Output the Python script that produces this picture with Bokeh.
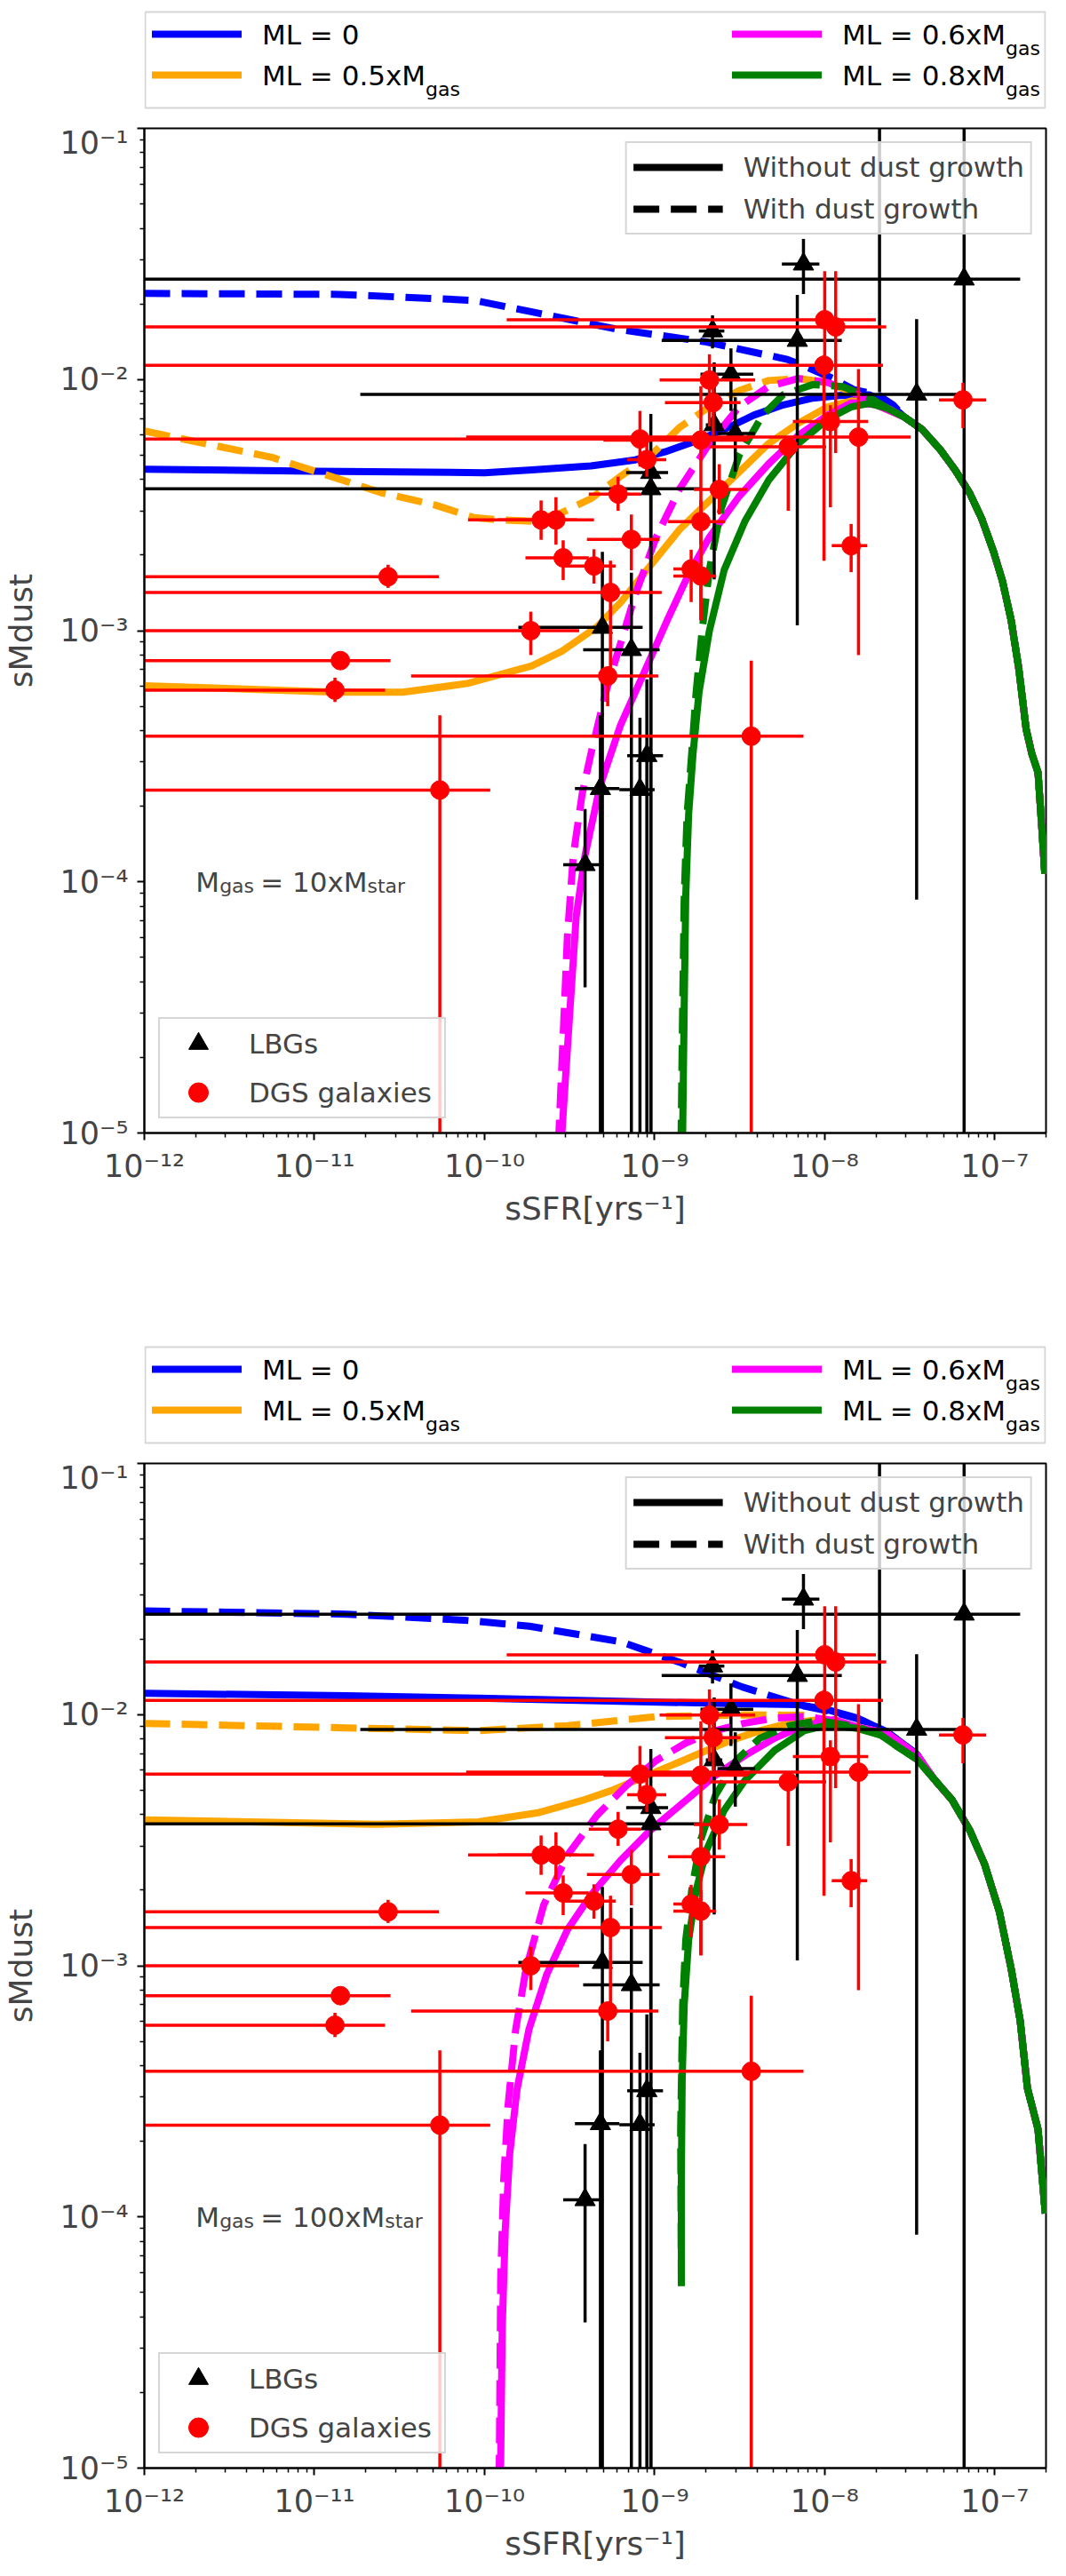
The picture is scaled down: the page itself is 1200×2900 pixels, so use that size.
import numpy as np
from bokeh.plotting import figure
from bokeh.models import (ColumnDataSource, Legend, LegendItem, Label, Range1d,
                          FixedTicker, CustomJSTickFormatter)
from bokeh.layouts import column
from bokeh.embed import file_html
from bokeh.resources import INLINE
from bokeh.core.properties import value

FONT = "DejaVu Sans"

# ---------------- observations (same in both panels) ----------------
# LBGs, black triangles (last one sits above the plotted range, only its bar shows)
lbg_ssfr = [7.5e-9, 6.6e-8, 2.19e-9, 6.9e-9, 2.81e-9, 2.24e-9, 2.98e-9, 3.47e-8,
            9.5e-10, 9.5e-10, 4.93e-10, 7.3e-10, 9.0e-10, 4.8e-10, 8.2e-10, 3.9e-10, 2.1e-8]
lbg_smd = [0.0288, 0.0251, 0.0156, 0.0143, 0.0105, 0.0066, 0.0061, 0.00873,
           0.00426, 0.00367, 0.00103, 8.4e-4, 3.18e-4, 2.35e-4, 2.33e-4, 1.17e-4, 0.2]
lbg_ssfr_lo = [5.6e-9, 1e-13, 1.82e-9, 1.1e-9, 1.86e-9, 2.0e-9, 2.34e-9, 1.86e-11,
               6.8e-10, 1e-13, 1.58e-10, 3.8e-10, 6.9e-10, 3.4e-10, 6.2e-10, 2.9e-10, 2.1e-8]
lbg_ssfr_hi = [9.3e-9, 1.41e-7, 2.57e-9, 1.26e-8, 3.8e-9, 2.5e-9, 3.9e-9, 6.6e-8,
               1.2e-9, 1.9e-9, 8.5e-10, 1.07e-9, 1.12e-9, 6.2e-10, 1.0e-9, 5.0e-10, 2.1e-8]
lbg_smd_lo = [0.0219, 1e-7, 0.0133, 0.00105, 0.0075, 0.0016, 0.0043, 8.5e-5,
              1e-7, 1e-7, 1e-7, 1e-7, 1e-7, 1e-7, 1e-7, 3.8e-5, 0.0089]
lbg_smd_hi = [0.0363, 0.5, 0.018, 0.0217, 0.0133, 0.0117, 0.0085, 0.0174,
              0.0073, 0.0045, 0.00206, 0.0017, 6.4e-4, 4.6e-4, 4.5e-4, 1.95e-4, 0.5]

# DGS galaxies, red circles
dgs_ssfr = [1.0e-8, 1.16e-8, 9.9e-9, 2.1e-9, 2.21e-9, 8.2e-10, 1.58e-8, 1.87e-9,
            9.0e-10, 6.1e-9, 1.08e-8, 6.1e-10, 2.4e-9, 2.15e-10, 2.63e-10, 1.87e-9,
            7.3e-10, 2.9e-10, 4.4e-10, 1.64e-9, 1.87e-9, 5.5e-10, 1.43e-8, 1.87e-10,
            6.5e-8, 2.71e-11, 1.42e-11, 1.32e-11, 5.3e-10, 5.46e-11, 3.7e-9]
dgs_smd = [0.0173, 0.0162, 0.0114, 0.00995, 0.0081, 0.0058, 0.0059, 0.00574,
           0.0048, 0.0054, 0.0068, 0.0035, 0.00365, 0.00276, 0.00276, 0.00272,
           0.00231, 0.00195, 0.00181, 0.00176, 0.00165, 0.00142, 0.00218, 0.0010,
           0.0083, 0.00164, 7.6e-4, 5.8e-4, 6.6e-4, 2.32e-4, 3.8e-4]
dgs_ssfr_lo = [1.35e-10, 1e-13, 1e-13, 1.07e-9, 1.15e-9, 1e-13, 7.8e-11, 5.0e-10,
               6.9e-10, 2.1e-9, 6.5e-9, 4.1e-10, 1.7e-9, 8.0e-11, 1.2e-10, 1.2e-9,
               4.0e-10, 1.74e-10, 2.95e-10, 1.29e-9, 1.29e-9, 1e-13, 1.1e-8, 1e-13,
               4.7e-8, 1e-13, 1e-13, 1e-13, 3.7e-11, 1e-13, 1e-13]
dgs_ssfr_hi = [2.0e-8, 2.3e-8, 2.2e-8, 3.9e-9, 3.2e-9, 3.6e-9, 3.2e-8, 3.5e-9,
               1.17e-9, 1.02e-8, 1.8e-8, 8.3e-10, 3.5e-9, 3.5e-10, 4.4e-10, 2.6e-9,
               1.07e-9, 4.1e-10, 5.9e-10, 2.0e-9, 2.3e-9, 1.1e-9, 1.78e-8, 3.6e-10,
               8.9e-8, 5.4e-11, 2.8e-11, 2.6e-11, 1.05e-9, 1.08e-10, 7.5e-9]
dgs_smd_lo = [0.0116, 0.0051, 0.0019, 0.0065, 0.0060, 0.0045, 0.0008, 0.0011,
              0.0041, 0.0030, 0.0031, 0.0030, 0.0029, 0.0023, 0.0022, 0.0022,
              0.00174, 0.00159, 0.00154, 0.0013, 0.0011, 0.00071, 0.00171, 0.00080,
              0.0064, 0.00148, 0.00073, 0.00052, 0.00050, 1e-7, 1e-7]
dgs_smd_hi = [0.027, 0.027, 0.0125, 0.0126, 0.0095, 0.0075, 0.011, 0.0094,
              0.0056, 0.0059, 0.0079, 0.0041, 0.0046, 0.0033, 0.0034, 0.0033,
              0.0029, 0.00229, 0.00211, 0.0021, 0.0020, 0.0019, 0.00266, 0.00119,
              0.0097, 0.00183, 0.00079, 0.00065, 0.00072, 0.00046, 0.00076]

# ---------------- model curves, log10(sSFR) / log10(sMdust) ----------------
# upper panel, Mgas = 10 x Mstar ; all curves end on a common falling branch
top_tail_lx = [-7.53, -7.425, -7.32, -7.234, -7.147, -7.077, -7.008, -6.956, -6.904,
               -6.860, -6.816, -6.782, -6.746, -6.724, -6.706]
top_tail_ly = [-2.15, -2.20, -2.28, -2.359, -2.453, -2.554, -2.684, -2.80, -2.958,
               -3.146, -3.391, -3.491, -3.564, -3.78, -3.967]

top_blue_solid_lx = [-12.0, -11.0, -10.0, -9.722, -9.374, -9.113, -8.939, -8.765, -8.591,
                     -8.417, -8.243, -8.069, -7.912, -7.739, -7.634]
top_blue_solid_ly = [-2.357, -2.365, -2.371, -2.36, -2.344, -2.32, -2.288, -2.247, -2.199,
                     -2.142, -2.101, -2.074, -2.064, -2.061, -2.09]
top_blue_dash_lx = [-12.0, -10.85, -10.06, -9.74, -9.22, -8.70, -8.22, -8.09, -7.955, -7.83, -7.69, -7.60]
top_blue_dash_ly = [-1.657, -1.661, -1.685, -1.728, -1.80, -1.85, -1.92, -1.955, -1.995, -2.04, -2.06, -2.10]
top_orange_solid_lx = [-12.0, -10.87, -10.48, -10.10, -9.722, -9.548, -9.339, -9.20, -9.026,
                       -8.852, -8.678, -8.504, -8.33, -8.156, -7.982, -7.843, -7.70]
top_orange_solid_ly = [-3.219, -3.245, -3.245, -3.21, -3.14, -3.083, -2.985, -2.888, -2.742,
                       -2.596, -2.482, -2.369, -2.255, -2.174, -2.109, -2.085, -2.10]
top_orange_dash_lx = [-12.0, -11.25, -10.61, -10.29, -10.06, -9.91, -9.722, -9.548, -9.374,
                      -9.20, -9.026, -8.852, -8.678, -8.504, -8.33, -8.156, -7.982, -7.843, -7.70]
top_orange_dash_ly = [-2.205, -2.31, -2.45, -2.50, -2.55, -2.559, -2.564, -2.531, -2.474,
                      -2.385, -2.304, -2.19, -2.109, -2.044, -2.004, -1.996, -2.012, -2.05, -2.09]
top_magenta_solid_lx = [-9.55, -9.496, -9.461, -9.409, -9.321, -9.20, -9.06, -8.922, -8.80,
                        -8.678, -8.504, -8.33, -8.156, -7.982, -7.843, -7.70]
top_magenta_solid_ly = [-5.05, -4.491, -4.137, -3.894, -3.618, -3.375, -3.164, -2.953, -2.775,
                        -2.628, -2.466, -2.336, -2.223, -2.142, -2.093, -2.10]
top_magenta_dash_lx = [-9.566, -9.53, -9.513, -9.478, -9.426, -9.374, -9.287, -9.20, -9.113,
                       -8.991, -8.852, -8.678, -8.504, -8.33, -8.156, -7.982, -7.843, -7.70]
top_magenta_dash_ly = [-5.05, -4.491, -4.218, -3.894, -3.65, -3.488, -3.245, -3.05, -2.855,
                       -2.628, -2.434, -2.255, -2.109, -2.028, -1.996, -2.012, -2.05, -2.09]
top_green_solid_lx = [-8.836, -8.826, -8.817, -8.80, -8.774, -8.739, -8.678, -8.591, -8.469,
                      -8.33, -8.156, -7.982, -7.843, -7.739, -7.634]
top_green_solid_ly = [-5.05, -4.491, -4.056, -3.731, -3.488, -3.245, -3.00, -2.758, -2.564,
                      -2.401, -2.255, -2.158, -2.109, -2.095, -2.114]
top_green_dash_lx = [-8.845, -8.835, -8.826, -8.809, -8.782, -8.756, -8.721, -8.678, -8.609,
                     -8.504, -8.365, -8.243, -8.069, -7.895, -7.739, -7.634]
top_green_dash_ly = [-5.05, -4.491, -4.056, -3.731, -3.488, -3.245, -3.00, -2.758, -2.515,
                     -2.304, -2.142, -2.06, -2.02, -2.028, -2.07, -2.114]

# lower panel, Mgas = 100 x Mstar
bot_tail_lx = [-7.356, -7.252, -7.147, -7.06, -6.973, -6.903, -6.851, -6.808, -6.746, -6.703]
bot_tail_ly = [-2.258, -2.339, -2.461, -2.596, -2.785, -3.015, -3.218, -3.488, -3.651, -3.986]

bot_blue_solid_lx = [-12.0, -10.81, -10.035, -8.643, -8.156, -7.982, -7.808, -7.634, -7.46]
bot_blue_solid_ly = [-1.915, -1.925, -1.935, -1.955, -1.96, -1.981, -2.014, -2.069, -2.157]
bot_blue_dash_lx = [-12.0, -10.81, -10.12, -9.736, -9.20, -8.84, -8.485, -8.127, -7.982,
                    -7.808, -7.634, -7.46]
bot_blue_dash_ly = [-1.587, -1.60, -1.624, -1.648, -1.71, -1.795, -1.89, -1.965, -1.985,
                    -2.016, -2.069, -2.157]
bot_orange_solid_lx = [-12.0, -10.636, -10.035, -9.687, -9.426, -9.252, -9.078, -8.904, -8.73,
                       -8.556, -8.382, -8.208, -8.034, -7.808, -7.634, -7.46]
bot_orange_solid_ly = [-2.419, -2.437, -2.427, -2.391, -2.342, -2.302, -2.252, -2.203, -2.153,
                       -2.104, -2.064, -2.034, -2.02, -2.05, -2.075, -2.16]
bot_orange_dash_lx = [-12.0, -10.81, -10.035, -9.513, -8.991, -8.469, -8.127, -7.982, -7.808,
                      -7.634, -7.46]
bot_orange_dash_ly = [-2.035, -2.053, -2.064, -2.044, -2.008, -2.001, -2.003, -2.03, -2.05,
                      -2.075, -2.16]
bot_magenta_solid_lx = [-9.91, -9.905, -9.896, -9.878, -9.852, -9.809, -9.739, -9.635, -9.513,
                        -9.374, -9.20, -9.026, -8.817, -8.643, -8.469, -8.295, -8.121, -7.947,
                        -7.808, -7.634, -7.46]
bot_magenta_solid_ly = [-5.05, -4.975, -4.443, -4.047, -3.749, -3.492, -3.254, -3.036, -2.857,
                        -2.718, -2.58, -2.461, -2.342, -2.242, -2.163, -2.094, -2.044, -2.02,
                        -2.05, -2.075, -2.16]
bot_magenta_dash_lx = [-9.915, -9.913, -9.905, -9.887, -9.861, -9.817, -9.757, -9.652, -9.513,
                       -9.339, -9.165, -8.991, -8.817, -8.643, -8.469, -8.295, -8.121, -7.982,
                       -7.808, -7.634, -7.46]
bot_magenta_dash_ly = [-5.05, -4.975, -4.245, -3.849, -3.551, -3.254, -3.016, -2.758, -2.56,
                       -2.401, -2.282, -2.183, -2.113, -2.064, -2.034, -2.014, -2.008, -2.02,
                       -2.05, -2.075, -2.16]
bot_green_solid_lx = [-8.843, -8.843, -8.838, -8.826, -8.80, -8.756, -8.695, -8.591, -8.469,
                      -8.295, -8.121, -7.982, -7.808, -7.669, -7.582, -7.46]
bot_green_solid_ly = [-4.275, -3.849, -3.452, -3.155, -2.897, -2.699, -2.54, -2.381, -2.262,
                      -2.143, -2.064, -2.041, -2.055, -2.082, -2.123, -2.177]
bot_green_dash_lx = [-8.843, -8.847, -8.835, -8.817, -8.782, -8.73, -8.643, -8.521, -8.382,
                     -8.208, -8.034, -7.808, -7.669, -7.582, -7.46]
bot_green_dash_ly = [-4.275, -3.651, -3.155, -2.897, -2.699, -2.50, -2.322, -2.183, -2.094,
                     -2.044, -2.024, -2.05, -2.082, -2.123, -2.177]

ml_labels = ["ML = 0", "ML = 0.5xM", "ML = 0.6xM", "ML = 0.8xM"]
ml_subs = ["", "gas", "gas", "gas"]
ml_colors = ["#0000ff", "#ffa500", "#ff00ff", "#008000"]

x_major = [1e-12, 1e-11, 1e-10, 1e-9, 1e-8, 1e-7]
y_major = [1e-5, 1e-4, 1e-3, 1e-2, 1e-1]
x_minor = [k * 10.0 ** e for e in range(-13, -6) for k in range(2, 10)]
y_minor = [k * 10.0 ** e for e in range(-6, 0) for k in range(2, 10)]

DASH = "29 13"
LW = 8
EW = 3.5

sup_formatter = CustomJSTickFormatter(code="""
const sup = {"-": "\u207b", "0": "\u2070", "1": "\u00b9", "2": "\u00b2", "3": "\u00b3",
             "4": "\u2074", "5": "\u2075", "6": "\u2076", "7": "\u2077", "8": "\u2078", "9": "\u2079"};
const e = Math.round(Math.log10(tick));
return "10" + String(e).split("").map(c => sup[c]).join("");
""")


def legend_style(lg, pad, gw, gh, standoff, spacing):
    lg.label_text_font = FONT
    lg.label_text_font_size = "31px"
    lg.padding = pad
    lg.spacing = spacing
    lg.glyph_width = gw
    lg.glyph_height = gh
    lg.label_height = gh
    lg.label_standoff = standoff
    lg.border_line_color = "#cccccc"
    lg.border_line_width = 2
    lg.border_line_alpha = 0.8
    lg.background_fill_color = "white"
    lg.background_fill_alpha = 0.8
    lg.margin = 16


def make_ml_legend():
    # strip above each panel holding the two-column mass-loading legend
    lg = figure(frame_width=1015, frame_height=140, min_border_left=156, min_border_right=13,
                min_border_top=0, min_border_bottom=0,
                x_range=Range1d(0, 1015), y_range=Range1d(140, 0),
                x_axis_location=None, y_axis_location=None,
                toolbar_location=None, output_backend="svg")
    lg.outline_line_color = None
    lg.xgrid.visible = False
    lg.ygrid.visible = False
    lg.background_fill_color = "white"
    lg.border_fill_color = "white"
    lg.quad(left=[1], right=[1014], top=[13], bottom=[121], fill_color="white",
            line_color="#d6d6d6", line_width=2)
    col_x = [8.5, 8.5, 661.5, 661.5]
    row_y = [38, 84, 38, 84]
    for cx, ry, color in zip(col_x, row_y, ml_colors):
        lg.line([cx, cx + 101], [ry, ry], line_color=color, line_width=LW)
    tx = [c + 124 for c in col_x]
    lg.text(x=tx, y=row_y, text=ml_labels, text_font=value(FONT), text_font_size="31px",
            text_baseline="middle", text_align="left", text_color="black")
    lg.text(x=[t + 184 for t in tx], y=[r + 16 for r in row_y], text=ml_subs,
            text_font=value(FONT), text_font_size="22px",
            text_baseline="alphabetic", text_align="left", text_color="black")
    return lg


def make_panel(curves, tail_lx, tail_ly, factor, border_bottom):
    p = figure(x_axis_type="log", y_axis_type="log",
               x_range=Range1d(1e-12, 2e-7), y_range=Range1d(1e-5, 1e-1),
               frame_width=1015, frame_height=1131,
               min_border_left=156, min_border_right=13,
               min_border_top=4, min_border_bottom=border_bottom,
               x_axis_label="sSFR[yrs\u207b\u00b9]", y_axis_label="sMdust",
               toolbar_location=None, output_backend="svg")
    p.xgrid.visible = False
    p.ygrid.visible = False
    p.outline_line_color = "black"
    p.outline_line_width = 2
    p.outline_line_alpha = 1
    p.background_fill_color = "white"
    p.border_fill_color = "white"

    p.xaxis.ticker = FixedTicker(ticks=x_major, minor_ticks=x_minor)
    p.yaxis.ticker = FixedTicker(ticks=y_major, minor_ticks=y_minor)
    for ax in (p.xaxis[0], p.yaxis[0]):
        ax.formatter = sup_formatter
        ax.axis_line_width = 2
        ax.major_tick_line_width = 2
        ax.minor_tick_line_width = 1.5
        ax.major_tick_out = 8
        ax.major_tick_in = 0
        ax.minor_tick_out = 5
        ax.minor_tick_in = 0
        ax.major_label_text_font = FONT
        ax.major_label_text_font_size = "35px"
        ax.axis_label_text_font = FONT
        ax.axis_label_text_font_size = "36px"
        ax.axis_label_text_font_style = "normal"
    p.xaxis.major_label_standoff = 9
    p.xaxis.axis_label_standoff = 4
    p.yaxis.major_label_standoff = 10
    p.yaxis.axis_label_standoff = 20

    # model curves
    for lx, ly, color, dashed in curves:
        xs = [10.0 ** v for v in lx + tail_lx]
        ys = [10.0 ** v for v in ly + tail_ly]
        p.line(xs, ys, line_color=color, line_width=LW, line_join="round",
               line_dash=DASH if dashed else "solid")

    # LBG error bars and markers
    lbg = ColumnDataSource(dict(x=lbg_ssfr, y=lbg_smd, xlo=lbg_ssfr_lo, xhi=lbg_ssfr_hi,
                                ylo=lbg_smd_lo, yhi=lbg_smd_hi))
    p.segment(x0="xlo", y0="y", x1="xhi", y1="y", source=lbg, line_color="black", line_width=EW)
    p.segment(x0="x", y0="ylo", x1="x", y1="yhi", source=lbg, line_color="black", line_width=EW)
    lbg_r = p.scatter("x", "y", source=lbg, marker="triangle", size=23,
                      fill_color="black", line_color="black")

    # DGS error bars and markers
    dgs = ColumnDataSource(dict(x=dgs_ssfr, y=dgs_smd, xlo=dgs_ssfr_lo, xhi=dgs_ssfr_hi,
                                ylo=dgs_smd_lo, yhi=dgs_smd_hi))
    p.segment(x0="xlo", y0="y", x1="xhi", y1="y", source=dgs, line_color="red", line_width=EW)
    p.segment(x0="x", y0="ylo", x1="x", y1="yhi", source=dgs, line_color="red", line_width=EW)
    dgs_r = p.scatter("x", "y", source=dgs, marker="circle", size=21,
                      fill_color="red", line_color="red")

    # legend: dust growth line styles (sample lines sit outside the visible range)
    solid_dummy = p.line(x=[1e-15, 2e-15], y=[1e-8, 1e-8], line_color="black", line_width=LW)
    dash_dummy = p.line(x=[1e-15, 2e-15], y=[1e-8, 1e-8], line_color="black", line_width=LW,
                        line_dash=DASH)
    lg_dust = Legend(items=[LegendItem(label="Without dust growth", renderers=[solid_dummy]),
                            LegendItem(label="With dust growth", renderers=[dash_dummy])],
                     location="top_right")
    legend_style(lg_dust, 7, 101, 40, 23, 7)
    lg_dust.margin = 15
    p.add_layout(lg_dust)

    # legend: observations
    lg_obs = Legend(items=[LegendItem(label="LBGs", renderers=[lbg_r]),
                           LegendItem(label="DGS galaxies", renderers=[dgs_r])],
                    location="bottom_left")
    legend_style(lg_obs, 0, 86, 55, 14, -9)
    lg_obs.label_width = 220
    p.add_layout(lg_obs)

    # Mgas = N x Mstar note
    main = "= %sxM" % factor
    star_off = 73 + (3.883 + 0.636 * (len(factor) - 2)) * 31
    parts = [("M", 0, 0, "31px"), ("gas", 27, -5, "22px"),
             (main, 73, 0, "31px"), ("star", star_off, -5, "22px")]
    for txt, xo, yo, fs in parts:
        p.add_layout(Label(x=2e-12, y=1e-4, x_offset=xo, y_offset=yo, text=txt,
                           text_font=FONT, text_font_size=fs,
                           text_baseline="alphabetic", text_align="left"))
    return p


top_curves = [
    (top_blue_solid_lx, top_blue_solid_ly, ml_colors[0], False),
    (top_blue_dash_lx, top_blue_dash_ly, ml_colors[0], True),
    (top_orange_solid_lx, top_orange_solid_ly, ml_colors[1], False),
    (top_orange_dash_lx, top_orange_dash_ly, ml_colors[1], True),
    (top_magenta_solid_lx, top_magenta_solid_ly, ml_colors[2], False),
    (top_magenta_dash_lx, top_magenta_dash_ly, ml_colors[2], True),
    (top_green_solid_lx, top_green_solid_ly, ml_colors[3], False),
    (top_green_dash_lx, top_green_dash_ly, ml_colors[3], True),
]
bot_curves = [
    (bot_blue_solid_lx, bot_blue_solid_ly, ml_colors[0], False),
    (bot_blue_dash_lx, bot_blue_dash_ly, ml_colors[0], True),
    (bot_orange_solid_lx, bot_orange_solid_ly, ml_colors[1], False),
    (bot_orange_dash_lx, bot_orange_dash_ly, ml_colors[1], True),
    (bot_magenta_solid_lx, bot_magenta_solid_ly, ml_colors[2], False),
    (bot_magenta_dash_lx, bot_magenta_dash_ly, ml_colors[2], True),
    (bot_green_solid_lx, bot_green_solid_ly, ml_colors[3], False),
    (bot_green_dash_lx, bot_green_dash_ly, ml_colors[3], True),
]

p1 = make_panel(top_curves, top_tail_lx, top_tail_ly, "10", 228)
p2 = make_panel(bot_curves, bot_tail_lx, bot_tail_ly, "100", 104)
p = column(make_ml_legend(), p1, make_ml_legend(), p2)

open("out.html", "w").write(file_html(p, INLINE))
